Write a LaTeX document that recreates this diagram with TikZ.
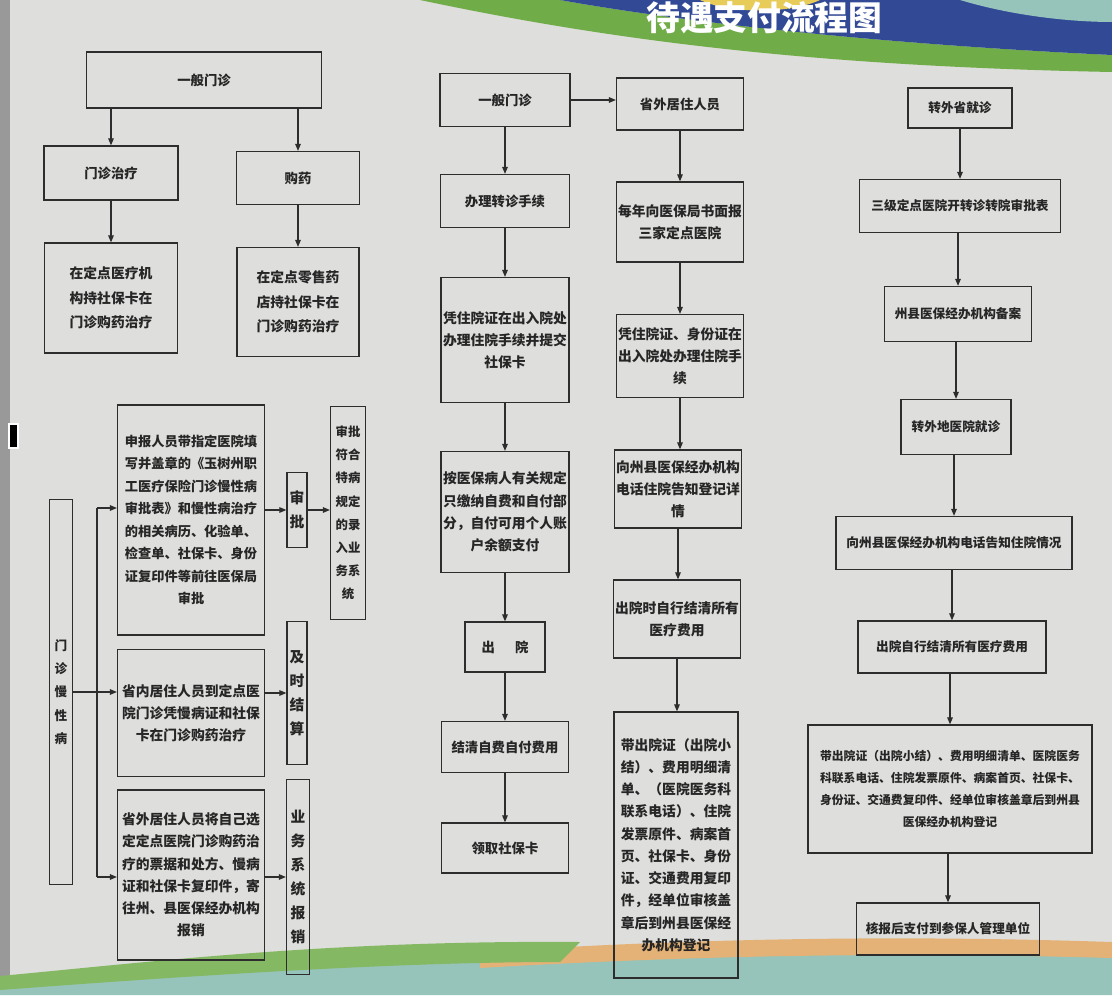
\documentclass[tikz,border=0pt]{standalone}
\usepackage{fontspec}
\setmainfont{Noto Sans CJK SC}
\usetikzlibrary{arrows.meta}
\definecolor{cline}{RGB}{45,45,45}
\definecolor{cbg}{RGB}{222,222,220}
\definecolor{cblue}{RGB}{50,74,150}
\definecolor{cgreen}{RGB}{112,172,72}
\definecolor{cyellow}{RGB}{232,204,90}
\definecolor{corange}{RGB}{228,178,118}
\definecolor{cteal}{RGB}{150,196,186}
\tikzset{
  box/.style={draw=cline, line width=0.9pt, align=center, inner sep=1pt,
    text=black!85, font=\bfseries\fontsize{9.5}{16}\selectfont},
  wh/.style 2 args={minimum width=#1*0.25mm, minimum height=#2*0.25mm},
  body/.style={font=\bfseries\fontsize{9.8}{15.8}\selectfont},
  vtext/.style={font=\bfseries\fontsize{10.5}{17}\selectfont},
  arr/.style={-{Triangle[length=5pt,width=4pt]}, draw=cline, line width=0.8pt}
}

\begin{document}
\begin{tikzpicture}[x=0.25mm, y=-0.25mm]
\useasboundingbox (0,0) rectangle (1112,995);
\begin{scope}
\clip (0,0) rectangle (1112,995);
\fill[cbg] (0,0) rectangle (1112,995);
\fill[black!40] (0,0) rectangle (10,995);
% top band
\fill[cgreen] (420,0) .. controls (600,38) and (800,66) .. (1112,72)
  -- (1112,55) .. controls (900,45) and (700,25) .. (560,0) -- cycle;
\fill[cblue] (560,0) .. controls (700,25) and (900,45) .. (1112,55)
  -- (1112,0) -- cycle;
\fill[cyellow] (700,0) .. controls (730,14) and (790,14) .. (820,0) -- cycle;
\fill[cteal] (960,0) .. controls (1020,18) and (1080,22) .. (1112,22)
  -- (1112,0) -- cycle;
% bottom band
\fill[cteal] (0,995) -- (0,985) .. controls (400,960) and (800,950) .. (1112,955)
  -- (1112,995) -- cycle;
\fill[corange] (480,952) .. controls (700,938) and (900,935) .. (1112,942)
  -- (1112,958) .. controls (900,952) and (700,955) .. (480,968) -- cycle;
\fill[cgreen!85] (0,976) .. controls (150,962) and (330,940) .. (580,942)
  -- (560,962) .. controls (400,962) and (200,975) .. (0,990) -- cycle;
\fill[white] (8,423) rectangle (19,449);
\fill[black] (10,425) rectangle (17,447);
\end{scope}
% title
\node[anchor=base west, text=white, inner sep=0pt,
  font=\bfseries\fontsize{24}{24}\selectfont] (title) at (646,31)
  {待遇支付流程图};

% general outpatient
\node[box, wh={235}{56}] (lgen) at (204,80) {一般门诊};
\node[box, wh={134}{54}] (lclin) at (111,173) {门诊治疗};
\node[box, wh={123}{53}] (ldrug) at (298,178) {购药};
\node[box, wh={133}{110}, font=\bfseries\fontsize{9.8}{17.5}\selectfont]
  (lclinb) at (111,298) {在定点医疗机\\构持社保卡在\\门诊购药治疗};
\node[box, wh={122}{109}, font=\bfseries\fontsize{9.8}{17.5}\selectfont]
  (ldrugb) at (298,302) {在定点零售药\\店持社保卡在\\门诊购药治疗};
\draw[arr] (lgen.south -| lclin) -- (lclin);
\draw[arr] (lgen.south -| ldrug) -- (ldrug);
\draw[arr] (lclin) -- (lclinb);
\draw[arr] (ldrug) -- (ldrugb);

% chronic disease
\node[box, wh={23}{385}, font=\bfseries\fontsize{9}{16.5}\selectfont]
  (lchron) at (61,692) {门\\诊\\慢\\性\\病};
\node[box, wh={147}{230}, font=\bfseries\fontsize{9.4}{16}\selectfont]
  (lapp) at (191,520) {申报人员带指定医院填\\写并盖章的《玉树州职\\工医疗保险门诊慢性病\\审批表》和慢性病治疗\\的相关病历、化验单、\\检查单、社保卡、身份\\证复印件等前往医保局\\审批};
\node[box, vtext, wh={20}{75}] (lrev) at (297,510) {审\\批};
\node[box, wh={35}{213}, font=\bfseries\fontsize{8.8}{16.5}\selectfont]
  (lrec) at (348,513) {审批\\符合\\特病\\规定\\的录\\入业\\务系\\统};
\node[box, body, wh={147}{127}] (lin) at (191,713)
  {省内居住人员到定点医\\院门诊凭慢病证和社保\\卡在门诊购药治疗};
\node[box, vtext, wh={20}{143}] (lsettle) at (297,693) {及\\时\\结\\算};
\node[box, body, wh={147}{170}] (lout) at (191,875)
  {省外居住人员将自己选\\定定点医院门诊购药治\\疗的票据和处方、慢病\\证和社保卡复印件，寄\\往州、县医保经办机构\\报销};
\node[box, vtext, wh={23}{195}] (lbiz) at (298,877) {业\\务\\系\\统\\报\\销};
\coordinate (bustop) at (97,508);
\coordinate (busbot) at (97,877);
\draw[draw=cline, line width=0.8pt] (bustop) -- (busbot);
\draw[arr] (bustop) -- (bustop -| lapp.west);
\draw[arr] (busbot) -- (busbot -| lout.west);
\draw[arr] (lchron) -- (lchron -| lin.west);
\draw[arr] (lapp.east |- lrev) -- (lrev);
\draw[arr] (lrev) -- (lrev -| lrec.west);
\draw[arr] (lin.east |- lsettle) -- (lsettle);
\draw[arr] (lout.east |- lbiz) -- (lbiz);

% hospital stay in province
\node[box, wh={130}{53}] (mgen) at (505,100) {一般门诊};
\node[box, wh={127}{52}] (mout) at (680,104) {省外居住人员};
\node[box, wh={129}{53}] (mtrans) at (505,201) {办理转诊手续};
\node[box, body, wh={128}{125}] (madm) at (505,340)
  {凭住院证在出入院处\\办理住院手续并提交\\社保卡};
\node[box, body, wh={128}{121}] (mpay) at (505,512)
  {按医保病人有关规定\\只缴纳自费和自付部\\分，自付可用个人账\\户余额支付};
\node[box, wh={80}{50}] (mdis) at (505,647) {出\hspace{1.5em}院};
\node[box, wh={127}{51}] (mclear) at (505,747) {结清自费自付费用};
\node[box, wh={127}{50}] (mcard) at (505,848) {领取社保卡};
\draw[arr] (mgen.east) -- (mgen.east -| mout.west);
\draw[arr] (mgen) -- (mtrans);
\draw[arr] (mtrans) -- (madm);
\draw[arr] (madm) -- (mpay);
\draw[arr] (mpay) -- (mdis);
\draw[arr] (mdis) -- (mclear);
\draw[arr] (mclear) -- (mcard);

% residents outside province
\node[box, body, wh={126}{80}] (rrep) at (680,222)
  {每年向医保局书面报\\三家定点医院};
\node[box, body, wh={126}{83}] (radm) at (680,356)
  {凭住院证、身份证在\\出入院处办理住院手\\续};
\node[box, body, wh={124}{78}] (rtel) at (678,489)
  {向州县医保经办机构\\电话住院告知登记详\\情};
\node[box, body, wh={124}{78}] (rclear) at (677,619)
  {出院时自行结清所有\\医疗费用};
\node[box, body, wh={124}{266}] (rreg) at (676,845)
  {带出院证（出院小\\结）、费用明细清\\单、（医院医务科\\联系电话）、住院\\发票原件、病案首\\页、社保卡、身份\\证、交通费用复印\\件，经单位审核盖\\章后到州县医保经\\办机构登记};
\draw[arr] (mout) -- (mout |- rrep.north);
\draw[arr] (rrep.south -| mout) -- (mout |- radm.north);
\draw[arr] (radm) -- (radm |- rtel.north);
\draw[arr] (rtel) -- (rtel |- rclear.north);
\draw[arr] (rclear) -- (rclear |- rreg.north);

% transfer outside province
\node[box, wh={104}{40}, font=\bfseries\fontsize{9}{15}\selectfont]
  (xgen) at (960,108) {转外省就诊};
\node[box, wh={201}{53}, font=\bfseries\fontsize{9}{15}\selectfont]
  (xappr) at (960,206) {三级定点医院开转诊转院审批表};
\node[box, wh={147}{55}, font=\bfseries\fontsize{9}{15}\selectfont]
  (xfile) at (958,314) {州县医保经办机构备案};
\node[box, wh={110}{55}, font=\bfseries\fontsize{9}{15}\selectfont]
  (xgo) at (956,427) {转外地医院就诊};
\node[box, wh={236}{53}, font=\bfseries\fontsize{9}{15}\selectfont]
  (xtel) at (954,543) {向州县医保经办机构电话告知住院情况};
\node[box, wh={188}{52}, font=\bfseries\fontsize{9}{15}\selectfont]
  (xclear) at (952,647) {出院自行结清所有医疗费用};
\node[box, wh={284}{128}, font=\bfseries\fontsize{8.4}{15.5}\selectfont]
  (xreg) at (950,789) {带出院证（出院小结）、费用明细清单、医院医务\\科联系电话、住院发票原件、病案首页、社保卡、\\身份证、交通费复印件、经单位审核盖章后到州县\\医保经办机构登记};
\node[box, wh={183}{52}, font=\bfseries\fontsize{9}{15}\selectfont]
  (xpay) at (948,929) {核报后支付到参保人管理单位};
\draw[arr] (xgen) -- (xgen |- xappr.north);
\draw[arr] (xappr.south -| xfile) -- (xfile);
\draw[arr] (xfile.south -| xgo) -- (xgo);
\draw[arr] (xgo.south -| xtel) -- (xtel);
\draw[arr] (xtel.south -| xclear) -- (xclear);
\draw[arr] (xclear.south -| xreg) -- (xreg);
\draw[arr] (xreg.south -| xpay) -- (xpay);
\end{tikzpicture}
\end{document}
